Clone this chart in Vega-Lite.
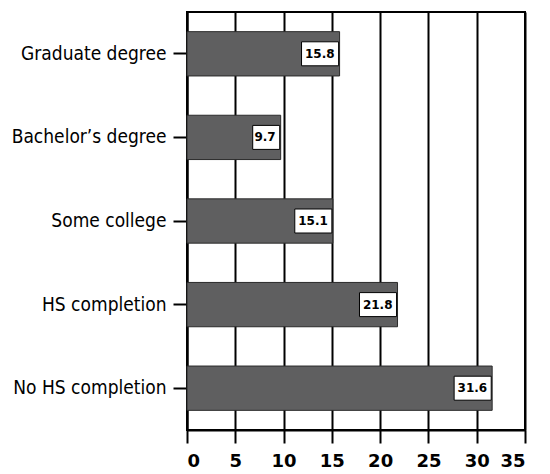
{
  "$schema": "https://vega.github.io/schema/vega-lite/v6.json",
  "width": 338,
  "height": 418,
  "autosize": {"type": "none"},
  "padding": {"left": 187, "top": 12, "right": 25, "bottom": 44},
  "background": "white",
  "config": {
    "view": {"stroke": "black", "strokeWidth": 2},
    "axis": {"domainColor": "black", "tickColor": "black", "labelColor": "black"}
  },
  "data": {
    "values": [
      {"category": "Graduate degree", "value": 15.8},
      {"category": "Bachelor’s degree", "value": 9.7},
      {"category": "Some college", "value": 15.1},
      {"category": "HS completion", "value": 21.8},
      {"category": "No HS completion", "value": 31.6}
    ]
  },
  "encoding": {
    "y": {
      "field": "category",
      "type": "nominal",
      "sort": null,
      "scale": {"paddingInner": 0.47, "paddingOuter": 0.235},
      "axis": {
        "title": null,
        "domainWidth": 2,
        "tickWidth": 2,
        "tickSize": 14,
        "labelPadding": 7,
        "labelFont": "DejaVu Sans Condensed",
        "labelFontSize": 19,
        "labelLimit": 200
      }
    },
    "x": {
      "field": "value",
      "type": "quantitative",
      "scale": {"domain": [0, 35], "nice": false},
      "axis": {
        "title": null,
        "values": [0, 5, 10, 15, 20, 25, 30, 35],
        "grid": true,
        "gridColor": "black",
        "gridWidth": 2,
        "gridOpacity": 1,
        "domainWidth": 2,
        "tickWidth": 2,
        "tickSize": 13,
        "labelPadding": 9,
        "labelFont": "DejaVu Sans",
        "labelFontWeight": "bold",
        "labelFontSize": 18
      }
    }
  },
  "layer": [
    {
      "mark": {"type": "bar", "fill": "#5f5f60", "stroke": "#2a2a2a", "strokeWidth": 1}
    },
    {
      "mark": {"type": "point", "filled": true, "fill": "white", "stroke": "black", "strokeWidth": 1, "opacity": 1, "size": 576},
      "encoding": {
        "shape": {
          "field": "category",
          "type": "nominal",
          "scale": {
            "domain": ["Graduate degree", "Bachelor’s degree", "Some college", "HS completion", "No HS completion"],
            "range": [
              "M-3.17,-1L-0.08,-1L-0.08,1L-3.17,1Z",
              "M-2.33,-1L-0.08,-1L-0.08,1L-2.33,1Z",
              "M-3.17,-1L-0.08,-1L-0.08,1L-3.17,1Z",
              "M-3.17,-1L-0.08,-1L-0.08,1L-3.17,1Z",
              "M-3.17,-1L-0.08,-1L-0.08,1L-3.17,1Z"
            ]
          },
          "legend": null
        }
      }
    },
    {
      "mark": {"type": "text", "align": "right", "baseline": "middle", "dx": -5, "font": "DejaVu Sans", "fontWeight": "bold", "fontSize": 12, "color": "black"},
      "encoding": {
        "text": {"field": "value", "type": "quantitative", "format": ".1f"}
      }
    }
  ]
}
